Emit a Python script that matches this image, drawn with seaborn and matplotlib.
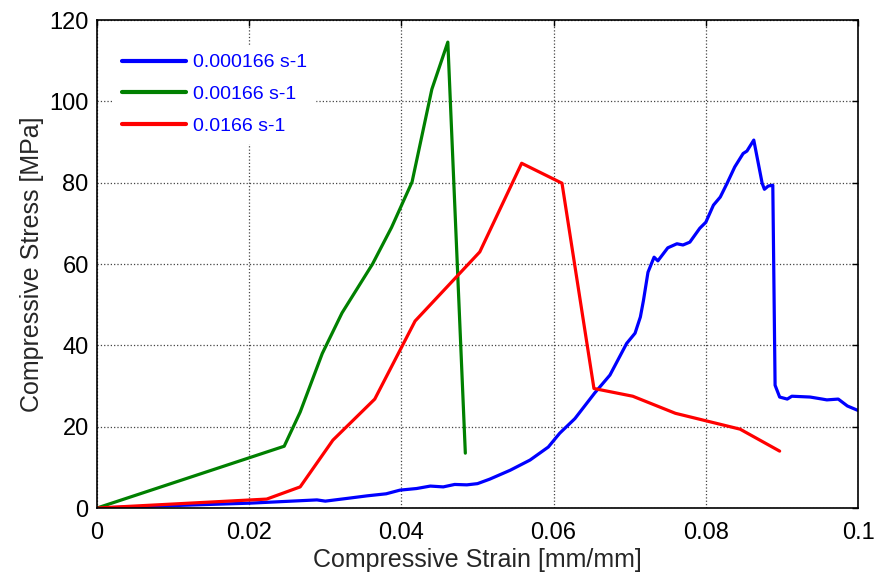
import matplotlib
matplotlib.use("Agg")
import matplotlib.pyplot as plt
import seaborn as sns
import pandas as pd

# Series data (strain [mm/mm], stress [MPa])
blue_x = [0.0, 0.0100, 0.0201, 0.0289, 0.0300, 0.0330, 0.0355, 0.0380, 0.0398, 0.0420,
          0.0438, 0.0455, 0.0470, 0.0486, 0.0500, 0.0516, 0.0543,
          0.0569, 0.0593, 0.0608, 0.0628, 0.0654, 0.0674, 0.0696, 0.0707, 0.0714, 0.0718,
          0.0724, 0.0732, 0.0737, 0.0750, 0.0762, 0.0770, 0.0779, 0.0792, 0.0800, 0.0810,
          0.0819, 0.0828, 0.0838, 0.0849, 0.0854, 0.0863, 0.0874, 0.0877, 0.0882, 0.0888,
          0.0891, 0.0897, 0.0907, 0.0913, 0.0937, 0.0953, 0.0959, 0.0974, 0.0986, 0.1000]
blue_y = [0.0, 0.6, 1.2, 2.0, 1.7, 2.4, 3.0, 3.5, 4.4, 4.8,
          5.4, 5.2, 5.8, 5.7, 6.0, 7.1, 9.3,
          11.8, 15.0, 18.4, 22.0, 28.3, 32.7, 40.5, 43.0, 47.0, 51.0,
          58.0, 61.7, 60.8, 64.0, 65.0, 64.7, 65.4, 68.8, 70.3, 74.5,
          76.5, 79.9, 83.9, 87.2, 87.8, 90.5, 79.9, 78.4, 79.2, 79.4,
          30.2, 27.3, 26.8, 27.5, 27.3, 26.8, 26.6, 26.8, 25.1, 24.0]

green_x = [0.0, 0.0246, 0.0267, 0.0296, 0.0322, 0.0362, 0.0387, 0.0414, 0.0440, 0.0461, 0.0484]
green_y = [0.0, 15.2, 23.6, 38.0, 48.0, 60.0, 69.0, 80.2, 103.0, 114.6, 13.5]

red_x = [0.0, 0.0223, 0.0267, 0.0310, 0.0365, 0.0418, 0.0503, 0.0558, 0.0611, 0.0653,
         0.0704, 0.0760, 0.0845, 0.0897]
red_y = [0.0, 2.2, 5.2, 16.7, 26.8, 46.0, 63.0, 84.8, 79.9, 29.4,
         27.5, 23.3, 19.4, 14.0]

labels = ["0.000166 s-1", "0.00166 s-1", "0.0166 s-1"]
colors = ["#0000ff", "#008000", "#ff0000"]

x_ticks = [0, 0.02, 0.04, 0.06, 0.08, 0.1]
x_ticklabels = ["0", "0.02", "0.04", "0.06", "0.08", "0.1"]
y_ticks = [0, 20, 40, 60, 80, 100, 120]

df = pd.concat([
    pd.DataFrame({"strain": blue_x, "stress": blue_y, "rate": labels[0]}),
    pd.DataFrame({"strain": green_x, "stress": green_y, "rate": labels[1]}),
    pd.DataFrame({"strain": red_x, "stress": red_y, "rate": labels[2]}),
], ignore_index=True)

sns.set_style("white")
plt.rcParams["font.family"] = ["Liberation Sans", "DejaVu Sans"]

fig = plt.figure(figsize=(8.76, 5.76), dpi=100)
ax = fig.add_axes([0.1107, 0.118, 0.8688, 0.847])

sns.lineplot(data=df, x="strain", y="stress", hue="rate", hue_order=labels,
             palette=colors, sort=False, estimator=None, linewidth=2.3, ax=ax)

ax.set_xlim(0, 0.1)
ax.set_ylim(0, 120)
ax.set_xticks(x_ticks)
ax.set_xticklabels(x_ticklabels)
ax.set_yticks(y_ticks)
ax.tick_params(direction="in", top=True, right=True, labelsize=17, length=4, width=1,
               colors="black")
ax.tick_params(axis="x", pad=10)
ax.tick_params(axis="y", pad=6)
ax.grid(True, linestyle=":", color="#444444", linewidth=0.9)
for s in ax.spines.values():
    s.set_color("black")
    s.set_linewidth(1.2)
ax.set_xlabel("Compressive Strain [mm/mm]", fontsize=18, labelpad=3)
ax.set_ylabel("Compressive Stress [MPa]", fontsize=18, labelpad=4)

leg = ax.legend(loc="upper left", frameon=True, fontsize=14, handlelength=3.3,
                handletextpad=0.36, borderaxespad=0, borderpad=0.4,
                bbox_to_anchor=(0.0223, 0.947), labelspacing=0.73,
                facecolor="white", edgecolor="white", framealpha=1, fancybox=False)
for t in leg.get_texts():
    t.set_color("#0000ff")
for l in leg.get_lines():
    l.set_linewidth(3)

fig.savefig("out.png", dpi=100, facecolor="white")
